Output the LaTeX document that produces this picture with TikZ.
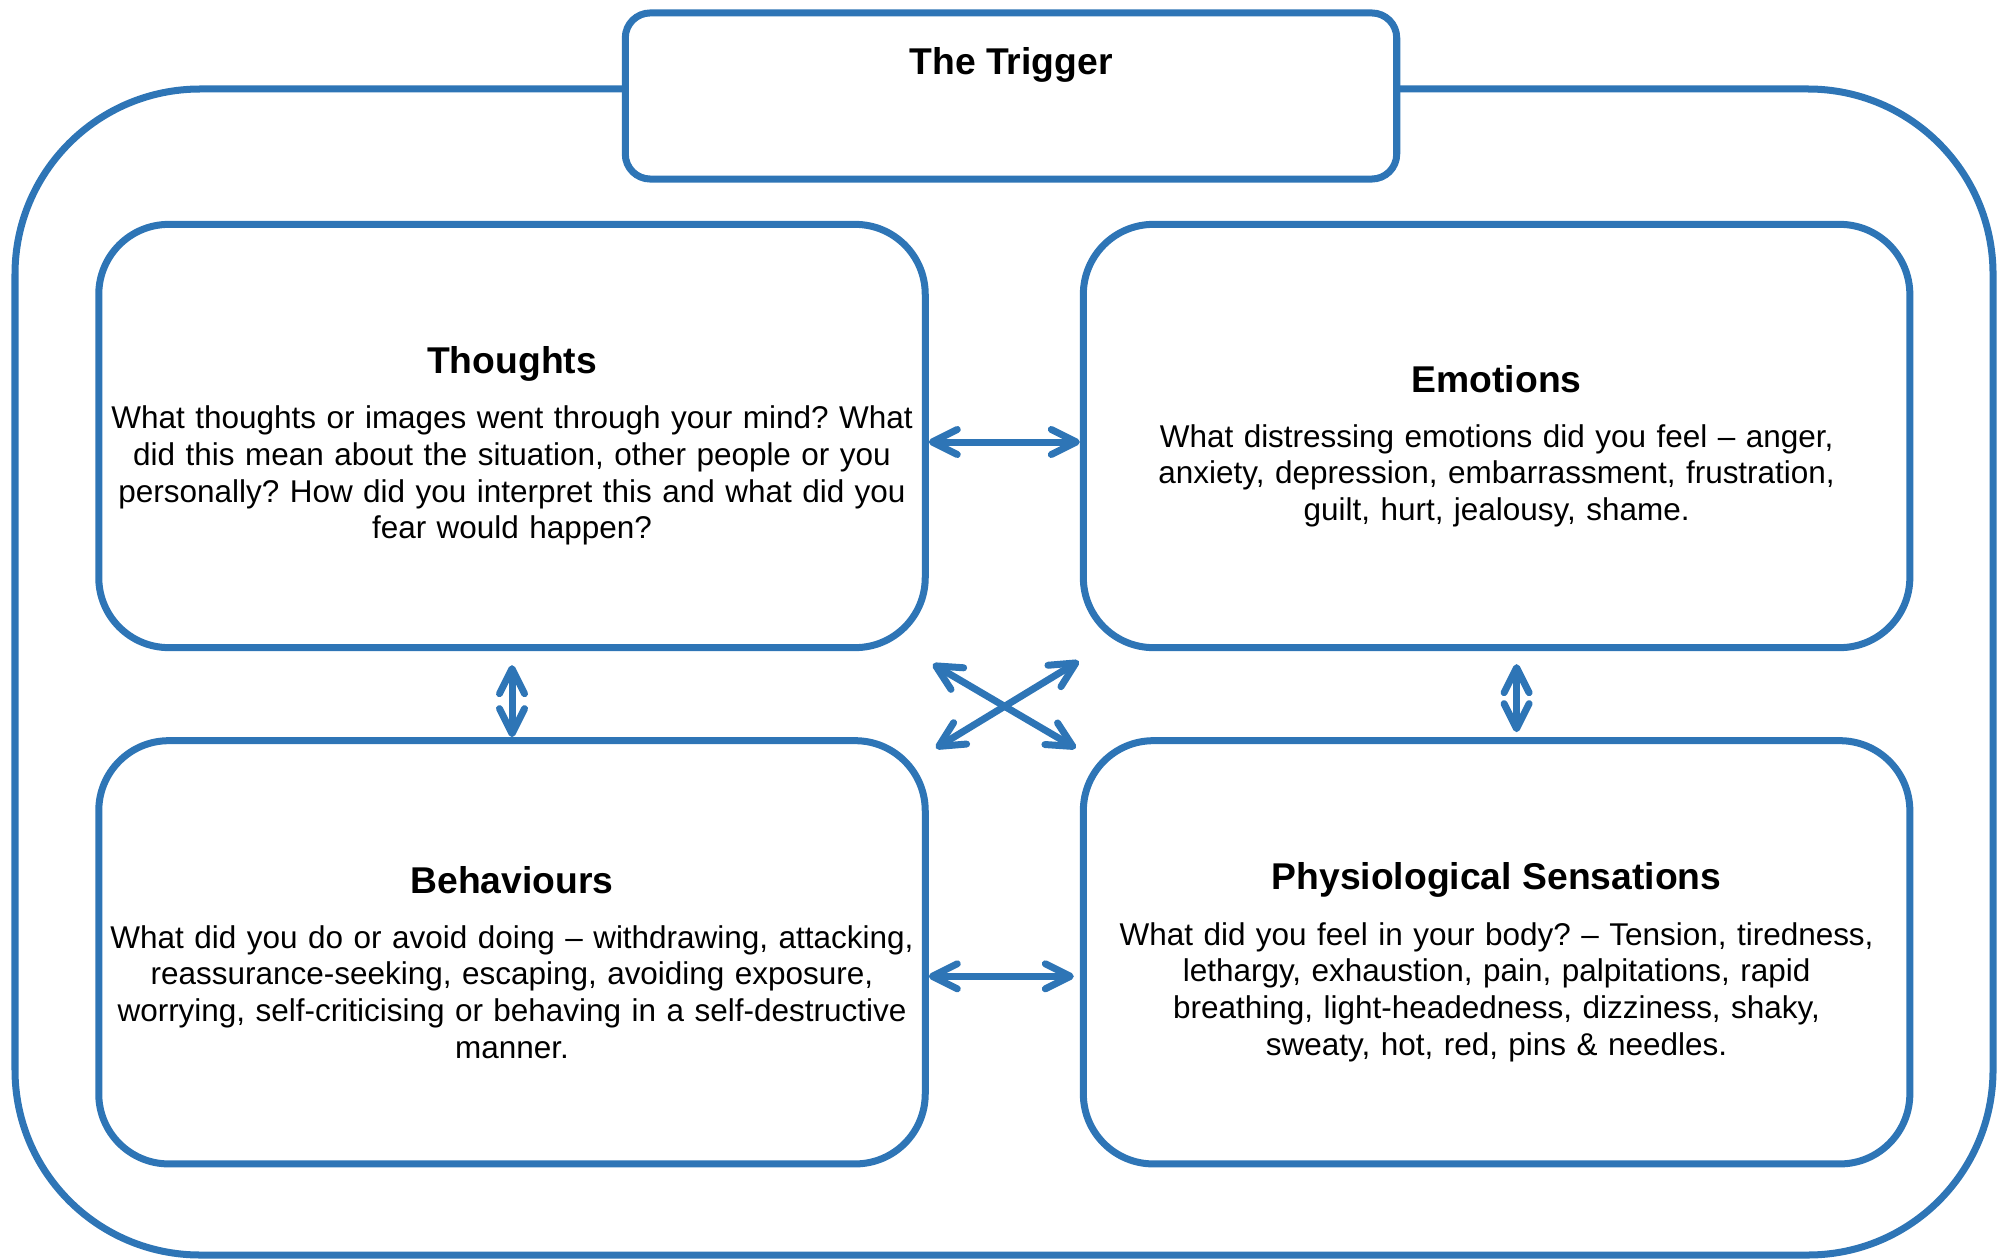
\documentclass[tikz,border=0pt]{standalone}
\usepackage{fontspec}
\setmainfont{Liberation Sans}
\usetikzlibrary{arrows.meta}

\definecolor{frameblue}{RGB}{46,117,182}
\tikzstyle{panel} = [rectangle, rounded corners=0.7cm, minimum width=8.26cm, minimum height=4.23cm, text width=8.2cm, inner sep=0.03cm, align=center, draw=frameblue, line width=0.07cm, font=\fontsize{8.95pt}{10.45pt}\selectfont\frenchspacing]
\tikzstyle{triggerbox} = [rectangle, rounded corners=0.25cm, minimum width=7.71cm, minimum height=1.66cm, inner sep=0pt, draw=frameblue, fill=white, line width=0.07cm]
\tikzstyle{titletext} = [inner sep=0pt, font=\fontsize{10.6pt}{12pt}\selectfont\bfseries]
\tikzstyle{arrow} = [draw=frameblue, line width=0.07cm, <->, >={Straight Barb[round,length=0.25cm,width=0.25cm]}]
\newcommand{\paneltitle}[1]{\rule{0pt}{13.4pt}{\fontsize{10.6pt}{12pt}\selectfont\bfseries #1}\\[5.2pt]}

\begin{document}
\begin{tikzpicture}[x=0.01cm, y=-0.01cm, node distance=5.16cm]
\useasboundingbox (0,0) rectangle (2004,1258);
% outer frame
\draw [frameblue, line width=0.07cm, rounded corners=1.85cm] (15,89) rectangle (1993,1255);

\node (trigger) [triggerbox] at (1011,96) {};
\node (triggertitle) [titletext, anchor=base] at ([yshift=-0.65cm]trigger.north) {The Trigger};

\node (thoughts) [panel] at (512,436) {\paneltitle{Thoughts}
What thoughts or images went through your mind? What\\
did this mean about the situation, other people or you\\
personally? How did you interpret this and what did you\\
fear would happen?};
\node (emotions) [panel, right of=thoughts, xshift=4.68cm] {\paneltitle{Emotions}
What distressing emotions did you feel -- anger,\\
anxiety, depression, embarrassment, frustration,\\
guilt, hurt, jealousy, shame.};
\node (behaviours) [panel, below of=thoughts] {\paneltitle{Behaviours}
What did you do or avoid doing -- withdrawing, attacking,\\
reassurance-seeking, escaping, avoiding exposure,\\
worrying, self-criticising or behaving in a self-destructive\\
manner.};
\node (physio) [panel, right of=behaviours, xshift=4.68cm] {\paneltitle{Physiological Sensations}
What did you feel in your body? -- Tension, tiredness,\\
lethargy, exhaustion, pain, palpitations, rapid\\
breathing, light-headedness, dizziness, shaky,\\
sweaty, hot, red, pins \& needles.};

% links
\draw [arrow] ([yshift=-0.06cm]thoughts.east) -- ([yshift=-0.06cm]emotions.west);
\draw [arrow, shorten <=0.14cm] (thoughts) -- (behaviours);
\draw [arrow, shorten <=0.13cm, shorten >=0.05cm] ([xshift=0.2cm]emotions.south) -- ([xshift=0.2cm]physio.north);
\draw [arrow, shorten >=0.06cm] ([yshift=-0.24cm]behaviours.east) -- ([yshift=-0.24cm]physio.west);
\draw [arrow] ([shift={(4,13)}]thoughts.south east) -- ([shift={(-4,11)}]physio.north west);
\draw [arrow] ([shift={(-1,10)}]emotions.south west) -- ([shift={(7,11)}]behaviours.north east);
\end{tikzpicture}
\end{document}
